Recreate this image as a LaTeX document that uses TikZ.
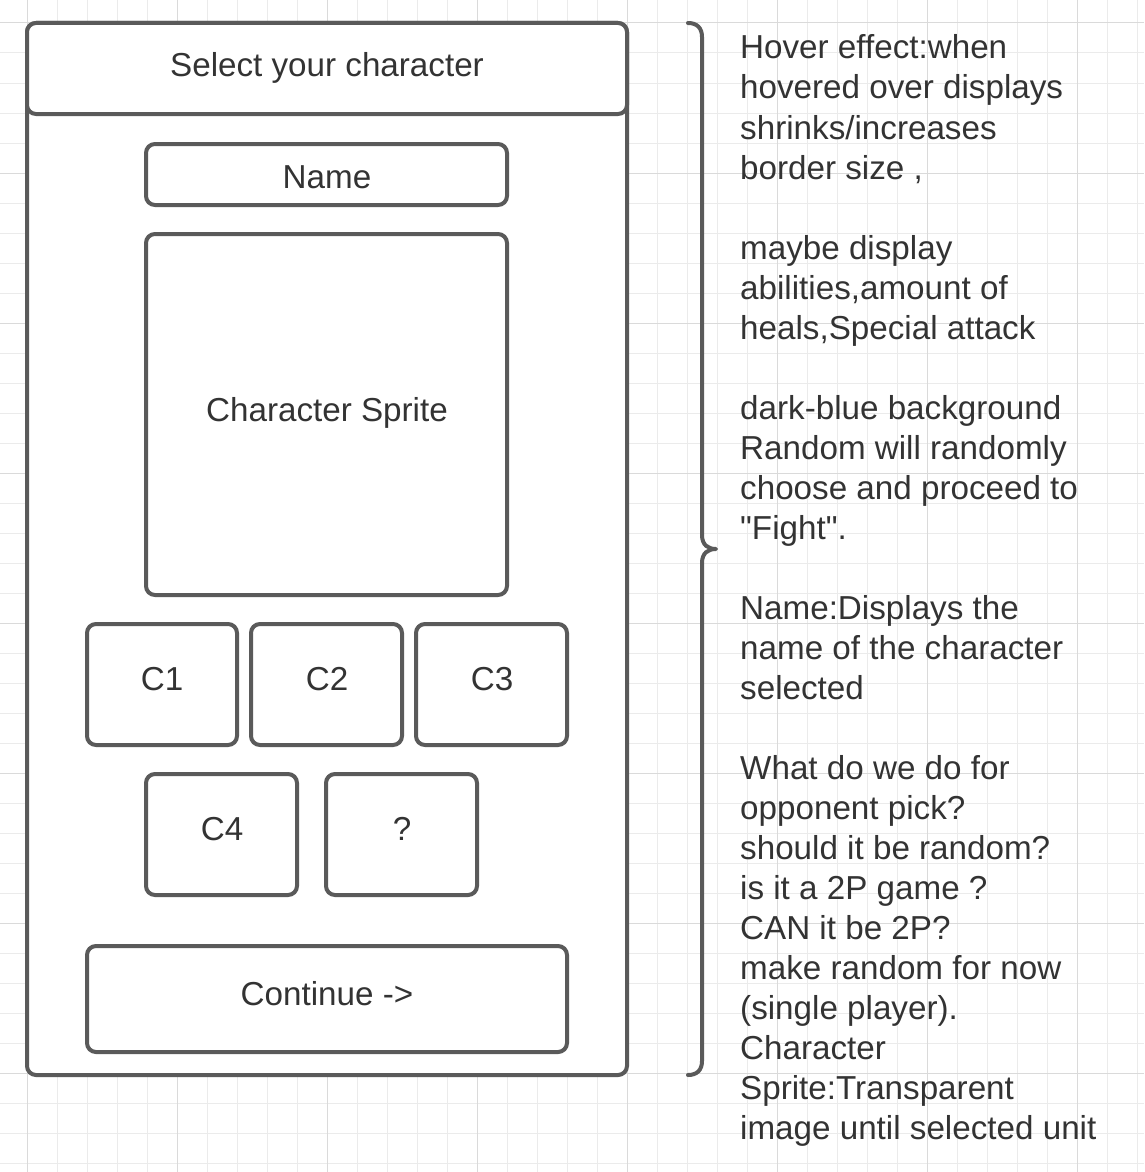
\documentclass[tikz,border=0pt]{standalone}
\usepackage{fontspec}
\setmainfont{Liberation Sans}[Ligatures=TeXOff]
\definecolor{strokec}{HTML}{5A5A5A}
\definecolor{textc}{HTML}{333333}
\definecolor{gridlight}{HTML}{EBEBEB}
\definecolor{griddark}{HTML}{DADADA}
\begin{document}
\begin{tikzpicture}[x=1pt,y=-1pt,
  box/.style={draw=strokec,line width=4pt,rounded corners=9pt,fill=white,
    minimum width=#1,inner sep=0pt,outer sep=0pt},
  lbl/.style={text=textc,anchor=base,inner sep=0pt,font=\fontsize{33.2}{40}\selectfont},
  note/.style={text=textc,anchor=base west,inner sep=0pt,font=\fontsize{33.2}{40}\selectfont}]
\useasboundingbox (0,0) rectangle (1144,1172);
\fill[white] (0,0) rectangle (1144,1172);
% grid
\foreach \gx in {-3,27,...,1143} {\draw[gridlight,line width=1pt] (\gx,0) -- (\gx,1172);}
\foreach \gy in {-7,23,...,1172} {\draw[gridlight,line width=1pt] (0,\gy) -- (1144,\gy);}
\foreach \gx in {27,177,...,1143} {\draw[griddark,line width=1pt] (\gx,0) -- (\gx,1172);}
\foreach \gy in {23,173,...,1172} {\draw[griddark,line width=1pt] (0,\gy) -- (1144,\gy);}
% frame and header
\node[box=600pt,minimum height=1052pt] (frame) at (327,549) {};
\node[box=600pt,minimum height=91pt] (header) at (327,68.5) {};
\node[lbl] (headert) at (327,76) {Select your character};
% name
\node[box=361pt,minimum height=61pt] (name) at (326.5,174.5) {};
\node[lbl] (namet) at (327,188.5) {Name};
% sprite
\node[box=361pt,minimum height=361pt] (sprite) at (326.5,414.5) {};
\node[lbl] (spritet) at (327,421) {Character Sprite};
% character buttons
\node[box=150pt,minimum height=121pt] (c1) at (162,684.5) {};
\node[box=151pt,minimum height=121pt] (c2) at (326.5,684.5) {};
\node[box=151pt,minimum height=121pt] (c3) at (491.5,684.5) {};
\node[lbl] (c1t) at (162,690) {C1};
\node[lbl] (c2t) at (327,690) {C2};
\node[lbl] (c3t) at (492,690) {C3};
\node[box=151pt,minimum height=121pt] (c4) at (221.5,834.5) {};
\node[box=151pt,minimum height=121pt] (cq) at (401.5,834.5) {};
\node[lbl] (c4t) at (222,840) {C4};
\node[lbl] (cqt) at (402,840) {?};
% continue
\node[box=480pt,minimum height=106pt] (cont) at (327,999) {};
\node[lbl] (contt) at (327,1005) {Continue ->};
% curly brace
\coordinate (btop) at (688,23);
\coordinate (btip) at (716,549);
\coordinate (bbot) at (688,1075);
\draw[strokec,line width=4pt,line cap=round,line join=round]
  (btop) .. controls (697,23) and (702,28) .. (702,37) -- (702,535)
  .. controls (702,545) and (708,549) .. (btip)
  .. controls (708,549) and (702,553) .. (702,563) -- (702,1061)
  .. controls (702,1070) and (697,1075) .. (bbot);
% notes
\foreach \ny/\nt [count=\ni] in {
  59/{Hover effect:when},
  99/{hovered over displays},
  139/{shrinks/increases},
  179/{border size ,},
  259/{maybe display},
  299/{abilities,amount of},
  339/{heals,Special attack},
  419/{dark-blue background},
  459/{Random will randomly},
  499/{choose and proceed to},
  539/{"Fight".},
  619/{Name:Displays the},
  659/{name of the character},
  699/{selected},
  779/{What do we do for},
  819/{opponent pick?},
  859/{should it be random?},
  899/{is it a 2P game ?},
  939/{CAN it be 2P?},
  979/{make random for now},
  1019/{(single player).},
  1059/{Character},
  1099/{Sprite:Transparent},
  1139/{image until selected unit}}
  {\node[note] (note\ni) at (740,\ny) {\nt};}
\end{tikzpicture}
\end{document}
